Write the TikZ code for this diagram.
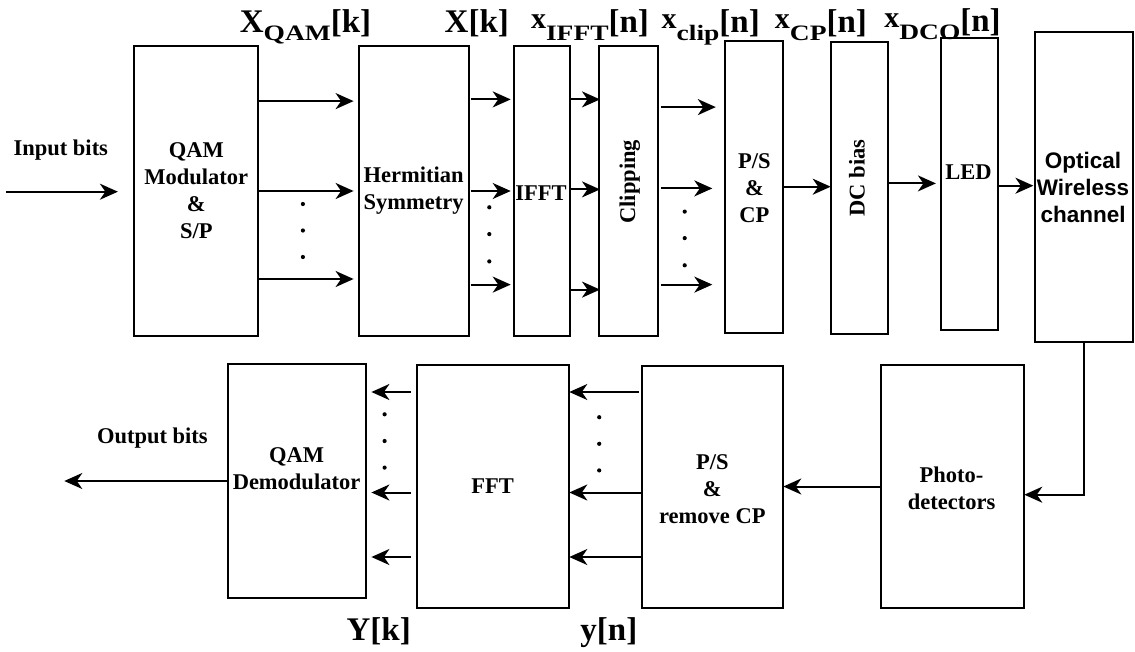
\documentclass[tikz,border=0pt]{standalone}
\usepackage{fontspec}
\usepackage{graphicx}
\setmainfont{Liberation Serif}
\newfontfamily\sansb{Liberation Sans}
\usetikzlibrary{arrows.meta,calc}
\newcommand\bodyfont{\fontsize{22.5}{27}\selectfont\bfseries}
\newcommand\labfont{\fontsize{33}{33}\selectfont\bfseries}
\newcommand\lsub[1]{\raisebox{-8pt}{\scalebox{1.25}[1]{\fontsize{22}{22}\selectfont\bfseries #1}}}
\newcommand\lx{\raisebox{4pt}{\fontsize{30}{30}\selectfont\bfseries x}}
\begin{document}
\begin{tikzpicture}[x=1pt,y=-1pt,
  box/.style={draw,line width=2pt,inner sep=0pt,outer sep=0pt},
  txt/.style={font=\bodyfont,align=center,inner sep=0pt},
  lab/.style={font=\labfont,anchor=base,inner sep=0pt},
  arr/.style={line width=2pt,-{Stealth[length=18pt,width=16pt,inset=5.5pt]}},
  dot/.style={circle,fill,inner sep=0pt,minimum size=4.2pt}]
\useasboundingbox (0,0) rectangle (1135,651);
\fill[white] (0,0) rectangle (1135,651);

% ---- top row boxes
\node[box,minimum width=124pt,minimum height=290.3pt] (qam) at (196.3,190.85) {};
\node[box,minimum width=110.3pt,minimum height=290.3pt] (herm) at (413.85,190.85) {};
\node[box,minimum width=55.7pt,minimum height=290.3pt] (ifft) at (542.15,190.85) {};
\node[box,minimum width=59.3pt,minimum height=290.3pt] (clip) at (628.65,190.85) {};
\node[box,minimum width=58pt,minimum height=292pt] (pscp) at (754.3,186.7) {};
\node[box,minimum width=57.6pt,minimum height=292pt] (dc) at (859.5,187.7) {};
\node[box,minimum width=57.6pt,minimum height=292pt] (led) at (969.5,184.3) {};
\node[box,minimum width=98pt,minimum height=309.4pt] (opt) at (1084.4,187) {};

% ---- bottom row boxes
\node[box,minimum width=138pt,minimum height=233.4pt] (demod) at (296.7,481) {};
\node[box,minimum width=152.6pt,minimum height=242.4pt] (fft) at (493,486.5) {};
\node[box,minimum width=141.6pt,minimum height=242pt] (psrm) at (712.5,486.7) {};
\node[box,minimum width=143.3pt,minimum height=242.4pt] (photo) at (952.65,486.5) {};

% ---- box texts
\node[txt] (qamt) at (196.3,191) {QAM\\Modulator\\\&\\S/P};
\node[txt] (hermt) at (413.6,191) {Hermitian\\Symmetry};
\node[txt] (iffttxt) at (541,193) {IFFT};
\node[txt,rotate=90] (clipt) at (629.7,181.7) {Clipping};
\node[txt] (pscpt) at (754.4,188) {P/S\\\&\\CP};
\node[txt,rotate=90] (dct) at (857,178) {DC bias};
\node[txt] (ledt) at (968.5,172.6) {LED};
\node[txt,font=\sansb\bodyfont] (optt) at (1083,187.6) {Optical\\Wireless\\channel};
\node[txt] (demodt) at (296.5,469) {QAM\\Demodulator};
\node[txt] (fftt) at (492.5,486.3) {FFT};
\node[txt] (psrmt) at (712.3,488.7) {P/S\\\&\\remove CP};
\node[txt] (photot) at (951.6,488.6) {Photo-\\detectors};
\node[txt,anchor=base] (inlab) at (60.8,155) {Input bits};
\node[txt,anchor=base] (outlab) at (152.4,443) {Output bits};

% ---- signal labels
\node[lab] (lqam) at (305.5,32) {X\lsub{QAM}[k]};
\node[lab] (lxk) at (476.8,32) {X[k]};
\node[lab] (lifft) at (590,32) {\lx\lsub{IFFT}[n]};
\node[lab] (lclip) at (710.7,32) {\lx\lsub{clip}[n]};
\node[lab] (lcp) at (820.9,32) {\lx\lsub{CP}[n]};
\node[lab] (ldco) at (942.5,31) {\lx\lsub{DCO}[n]};
\node[lab] (lyk) at (378.7,640) {Y[k]};
\node[lab] (lyn) at (608.9,640) {y[n]};

% ---- dots
\foreach \yy [count=\i] in {204,230.5,257} \node[dot] (da\i) at (302.9,\yy) {};
\foreach \yy [count=\i] in {207.3,234.1,261.4} \node[dot] (db\i) at (489.3,\yy) {};
\foreach \yy [count=\i] in {211.6,238.1,265.3} \node[dot] (dc\i) at (684.7,\yy) {};
\foreach \yy [count=\i] in {417.2,443.8,470.4} \node[dot] (dd\i) at (599.2,\yy) {};
\foreach \yy [count=\i] in {414.3,441,467.6} \node[dot] (de\i) at (384.6,\yy) {};

% ---- connectors, top row
\coordinate (in) at (6.4,191.7);
\coordinate (out) at (64.3,481);
\draw[arr] (in) -- ($(qam.west |- in)+(-16.4,0)$);
\foreach \yy in {101.1,191,279}
  \draw[arr] (qam.east |- 0,\yy) -- ($(herm.west |- 0,\yy)+(-5.1,0)$);
\foreach \yy in {99.4,191,284.6}
  \draw[arr] ($(herm.east |- 0,\yy)+(1.5,0)$) -- ($(ifft.west |- 0,\yy)+(-3.6,0)$);
\foreach \yy in {99.4,189.4,289.6}
  \draw[arr] (ifft.east |- 0,\yy) -- ($(clip.west |- 0,\yy)+(1,0)$);
\foreach \yy/\e in {107.1/-9.5,188.4/-13,284.6/-13}
  \draw[arr] ($(clip.east |- 0,\yy)+(2.5,0)$) -- ($(pscp.west |- 0,\yy)+(\e,0)$);
\draw[arr] (pscp.east |- 0,186.7) -- (dc.west |- 0,186.7);
\draw[arr] (dc.east |- 0,183.4) -- ($(led.west |- 0,183.4)+(-4.8,0)$);
\draw[arr] (led.east |- 0,185.7) -- ($(opt.west |- 0,185.7)+(-2,0)$);

% ---- connectors, bottom row
\draw[arr] (opt.south) |- (photo.east |- 0,494.7);
\draw[arr] (photo.west |- 0,486.5) -- (psrm.east |- 0,486.5);
\foreach \yy/\s in {392/-3,492.5/0,557/0}
  \draw[arr] ($(psrm.west |- 0,\yy)+(\s,0)$) -- (fft.east |- 0,\yy);
\foreach \yy in {392,492.5,557}
  \draw[arr] ($(fft.west |- 0,\yy)+(-6,0)$) -- ($(demod.east |- 0,\yy)+(5.7,0)$);
\draw[arr] (demod.west |- out) -- (out);
\end{tikzpicture}
\end{document}
